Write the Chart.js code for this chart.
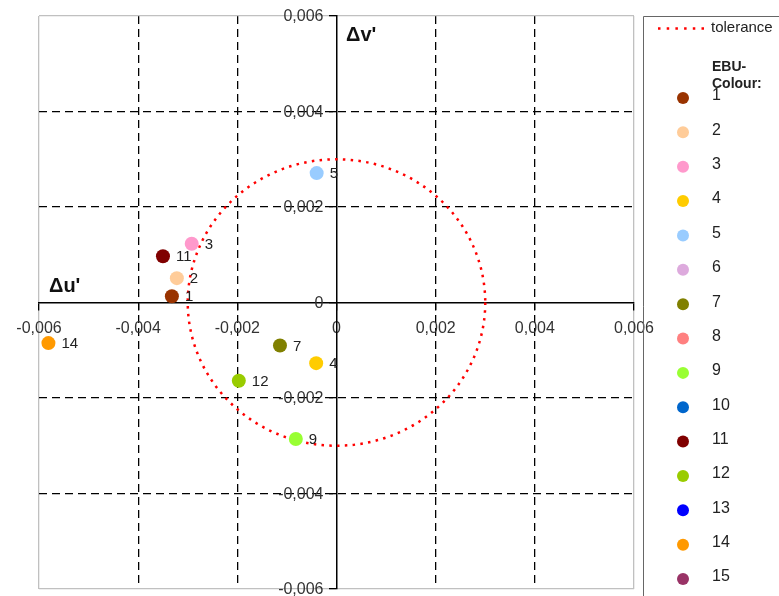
<!DOCTYPE html>
<html>
<head>
<meta charset="utf-8">
<script src="https://cdn.jsdelivr.net/npm/chart.js@4/dist/chart.umd.min.js"></script>
<style>
  html, body { margin: 0; padding: 0; background: #fff; }
  #wrap { position: relative; width: 779px; height: 596px; }
</style>
</head>
<body>
<div id="wrap"><canvas id="myChart" width="779" height="596"></canvas></div>
<script>
// EBU colour numbers, their du' / dv' deviation (null = not measured)
const ebuLabels = ['1', '2', '3', '4', '5', '6', '7', '8', '9', '10', '11', '12', '13', '14', '15'];
const duValues = [-0.00332, -0.00322, -0.00292, -0.00041, -0.00040, null, -0.00114, null, -0.00082, null, -0.00350, -0.00197, null, -0.00581, null];
const dvValues = [0.00013, 0.00051, 0.00123, -0.00127, 0.00271, null, -0.00090, null, -0.00286, null, 0.00097, -0.00164, null, -0.00085, null];
const ebuColours = ['#993300', '#ffcc99', '#ff99cc', '#ffcc00', '#99ccff', '#ddaadd', '#808000', '#ff8080', '#99ff33', '#0066cc', '#800000', '#99cc00', '#0000ff', '#ff9900', '#993366'];
const toleranceRadius = 0.003;
const axisTicks = [-0.006, -0.004, -0.002, 0, 0.002, 0.004, 0.006];

const fontFamily = "'Liberation Sans', Arial, sans-serif";

const fmt = v => v === 0 ? '0' : v.toFixed(3).replace('.', ',');

const datasets = ebuLabels.map((label, i) => ({
  label: label,
  data: duValues[i] === null ? [] : [{ x: duValues[i], y: dvValues[i] }],
  backgroundColor: ebuColours[i],
  borderColor: ebuColours[i],
  pointRadius: 7,
  pointHoverRadius: 7,
  borderWidth: 0
}));

// dotted tolerance circle, drawn through the scales
const tolerancePlugin = {
  id: 'tolerance',
  beforeDatasetsDraw(chart) {
    const { ctx, scales: { x, y } } = chart;
    const cx = x.getPixelForValue(0);
    const cy = y.getPixelForValue(0);
    const rx = Math.abs(x.getPixelForValue(toleranceRadius) - cx);
    const ry = Math.abs(y.getPixelForValue(toleranceRadius) - cy);
    ctx.save();
    ctx.strokeStyle = '#ff0000';
    ctx.lineWidth = 2.5;
    ctx.setLineDash([2.5, 5.3]);
    ctx.beginPath();
    ctx.ellipse(cx, cy, rx, ry, 0, 0, Math.PI * 2);
    ctx.stroke();
    ctx.restore();
  }
};

// y tick labels (left of the centred axis), number next to each point, axis titles, legend box
const labelsPlugin = {
  id: 'labels',
  afterDraw(chart) {
    const { ctx, scales: { x, y } } = chart;
    ctx.save();

    ctx.fillStyle = '#333';
    ctx.font = '16px ' + fontFamily;
    ctx.textAlign = 'right';
    ctx.textBaseline = 'middle';
    const axisX = x.getPixelForValue(0);
    axisTicks.forEach(v => {
      ctx.fillText(fmt(v), axisX - 13, y.getPixelForValue(v) + 1);
    });

    ctx.fillStyle = '#222';
    ctx.font = '15px ' + fontFamily;
    ctx.textAlign = 'left';
    chart.data.datasets.forEach((ds, i) => {
      const meta = chart.getDatasetMeta(i);
      meta.data.forEach(pt => {
        ctx.fillText(ds.label, pt.x + 13, pt.y + 1);
      });
    });

    ctx.font = 'bold 20px ' + fontFamily;
    ctx.fillStyle = '#111';
    ctx.fillText("\u0394u'", 49, 286);
    ctx.fillText("\u0394v'", 346, 35);

    // legend
    ctx.strokeStyle = '#666';
    ctx.lineWidth = 1;
    ctx.beginPath();
    ctx.moveTo(643.5, 600);
    ctx.lineTo(643.5, 16.5);
    ctx.lineTo(790, 16.5);
    ctx.stroke();

    ctx.strokeStyle = '#ff0000';
    ctx.lineWidth = 2.5;
    ctx.setLineDash([2.5, 6.2]);
    ctx.beginPath();
    ctx.moveTo(658, 28.5);
    ctx.lineTo(706, 28.5);
    ctx.stroke();
    ctx.setLineDash([]);

    ctx.fillStyle = '#222';
    ctx.font = '15px ' + fontFamily;
    ctx.fillText('tolerance', 711, 28);

    ctx.font = 'bold 14px ' + fontFamily;
    ctx.fillText('EBU-', 712, 67);
    ctx.fillText('Colour:', 712, 84);

    ctx.font = '16px ' + fontFamily;
    ebuLabels.forEach((label, i) => {
      const yy = 98 + i * 34.36;
      ctx.fillStyle = ebuColours[i];
      ctx.beginPath();
      ctx.arc(683, yy, 6, 0, Math.PI * 2);
      ctx.fill();
      ctx.fillStyle = '#222';
      ctx.fillText(label, 712, yy - 2);
    });
    ctx.restore();
  }
};

const gridColour = ctx => {
  const v = ctx.tick ? ctx.tick.value : null;
  if (v === -0.006 || v === 0.006) return '#c0c0c0';
  if (v === 0) return 'rgba(0,0,0,0)';
  return '#000';
};
const gridDash = ctx => {
  const v = ctx.tick ? ctx.tick.value : null;
  if (v === -0.006 || v === 0.006 || v === 0) return [];
  return [8, 5];
};

const ctx = document.getElementById('myChart').getContext('2d');
new Chart(ctx, {
  type: 'scatter',
  data: { datasets: datasets },
  options: {
    responsive: false,
    animation: false,
    layout: { padding: { left: 39, top: 16, right: 145, bottom: 2 } },
    plugins: {
      legend: { display: false },
      tooltip: { enabled: false }
    },
    scales: {
      x: {
        type: 'linear',
        position: { y: 0 },
        min: -0.006,
        max: 0.006,
        afterBuildTicks: scale => { scale.ticks = axisTicks.map(v => ({ value: v })); },
        ticks: {
          callback: v => fmt(v),
          color: '#333',
          font: { family: fontFamily, size: 16 },
          padding: 9,
          maxRotation: 0
        },
        grid: {
          color: gridColour,
          lineWidth: 1.3,
          drawTicks: true,
          tickLength: 7,
          tickColor: '#000',
          tickBorderDash: []
        },
        border: { display: true, color: '#000', width: 1.5, dash: gridDash }
      },
      y: {
        type: 'linear',
        position: { x: 0 },
        min: -0.006,
        max: 0.006,
        afterBuildTicks: scale => { scale.ticks = axisTicks.map(v => ({ value: v })); },
        ticks: {
          display: false,
          callback: v => fmt(v)
        },
        grid: {
          color: gridColour,
          lineWidth: 1.3,
          drawTicks: true,
          tickLength: 7,
          tickColor: '#000',
          tickBorderDash: []
        },
        border: { display: true, color: '#000', width: 1.5, dash: gridDash }
      }
    }
  },
  plugins: [tolerancePlugin, labelsPlugin]
});
</script>
</body>
</html>
